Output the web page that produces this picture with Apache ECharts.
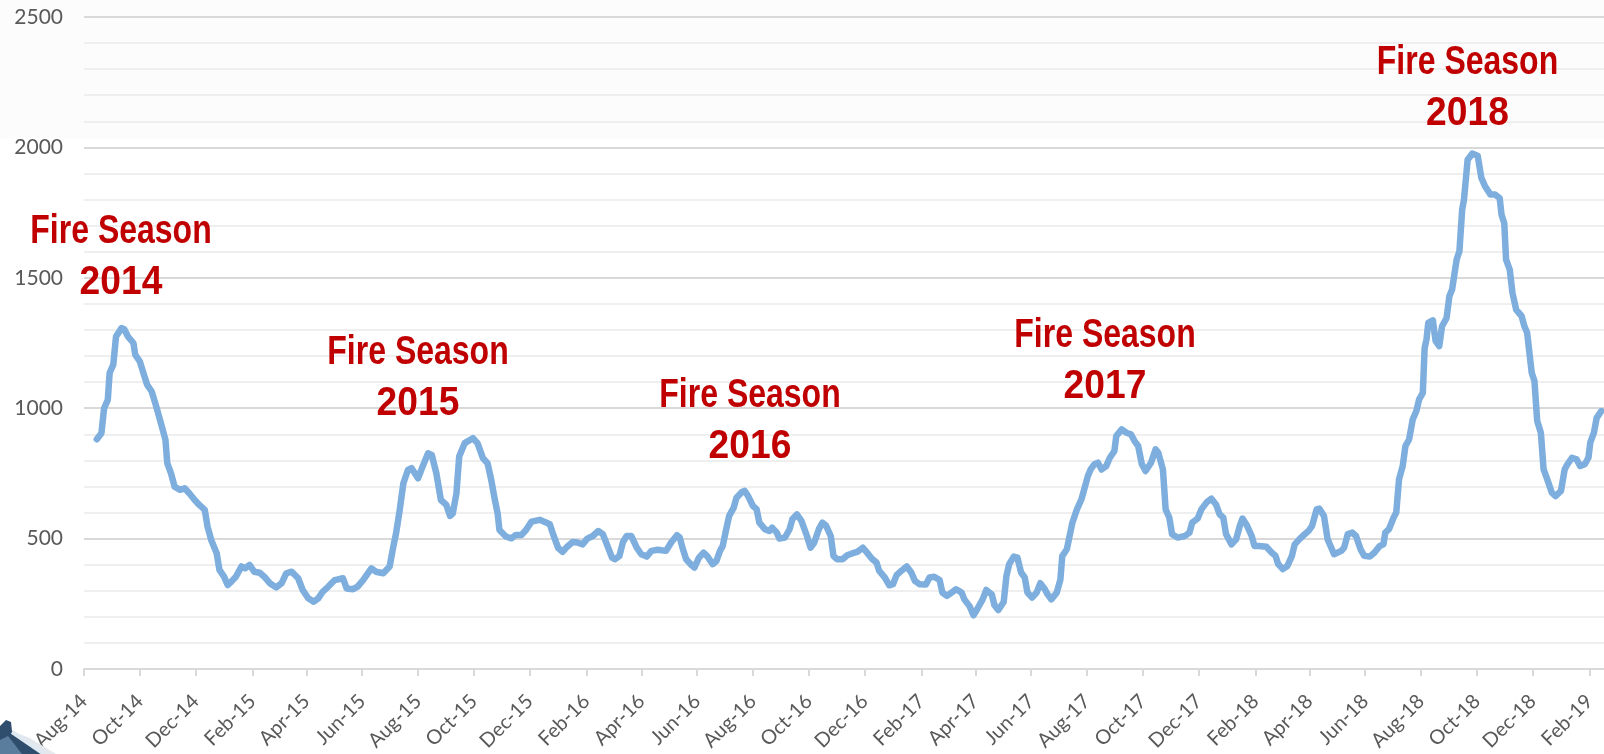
<!DOCTYPE html>
<html>
<head>
<meta charset="utf-8">
<script src="https://cdn.jsdelivr.net/npm/echarts@6/dist/echarts.min.js"></script>
<style>
  html, body { margin: 0; padding: 0; background: #ffffff; }
  #chart { width: 1604px; height: 754px; }
</style>
</head>
<body>
<div id="chart"></div>
<script>
// Observations: [days since 1 Aug 2014, count]
const START_UTC = Date.UTC(2014, 7, 1);
const DAY_MS = 86400000;

const obs2014 = [
  [14, 881], [19, 904], [22, 1000], [26, 1032], [28, 1135], [32, 1167], [35, 1275], [41, 1307],
  [44, 1303], [48, 1275], [54, 1250], [56, 1205], [61, 1179], [65, 1134], [69, 1090], [74, 1064],
  [79, 1006], [85, 930], [89, 879], [91, 789], [95, 751], [99, 699], [105, 687], [110, 693],
  [115, 674], [121, 648], [126, 629], [132, 610], [135, 546], [139, 495], [145, 444], [148, 380]
];
const obs2015 = [
  [153, 354], [157, 322], [161, 335], [166, 354], [172, 393], [176, 386], [181, 399], [186, 373],
  [192, 369], [197, 354], [203, 329], [210, 313], [216, 329], [221, 367], [227, 373], [234, 348],
  [239, 303], [245, 271], [251, 258], [256, 271], [261, 297], [267, 316], [274, 341], [283, 348],
  [287, 309], [294, 306], [299, 316], [305, 341], [314, 386], [319, 373], [327, 367], [334, 393],
  [338, 469], [341, 520], [345, 610], [349, 712], [354, 763], [358, 770], [365, 731], [370, 776],
  [376, 827], [380, 821], [385, 751], [390, 648], [396, 629], [400, 587], [403, 597], [407, 674],
  [410, 815], [416, 866], [425, 885], [430, 866], [436, 808], [441, 789], [445, 725], [449, 648],
  [452, 597], [454, 533], [461, 508], [467, 501], [472, 514], [478, 514], [483, 533], [489, 565],
  [498, 572], [503, 565], [509, 555], [512, 523]
];
const obs2016 = [
  [518, 465], [523, 449], [528, 469], [534, 487], [539, 485], [545, 478], [550, 500], [556, 510],
  [562, 529], [567, 517], [572, 472], [577, 427], [580, 421], [585, 433], [589, 487], [593, 510],
  [598, 510], [604, 465], [609, 440], [615, 431], [620, 453], [627, 457], [636, 453], [642, 487],
  [648, 513], [651, 504], [654, 465], [658, 421], [664, 398], [667, 389], [672, 427], [677, 446],
  [681, 433], [687, 402], [691, 414], [695, 453], [698, 472], [701, 523], [705, 587], [710, 619],
  [713, 657], [719, 679], [722, 683], [726, 661], [731, 625], [735, 613], [738, 561], [744, 536],
  [749, 529], [752, 542], [757, 523], [760, 500], [766, 504], [771, 536], [774, 574], [779, 593],
  [784, 568], [790, 510], [794, 465], [798, 485], [803, 536], [807, 561], [811, 549], [816, 510],
  [819, 433], [823, 421], [829, 421], [834, 436], [840, 444], [845, 449], [851, 465], [855, 449],
  [861, 423], [866, 408], [869, 376], [875, 351], [880, 321]
];
const obs2017 = [
  [884, 325], [888, 360], [893, 376], [899, 393], [904, 370], [908, 338], [913, 325], [920, 324],
  [924, 351], [929, 354], [935, 341], [938, 293], [943, 280], [948, 293], [953, 306], [959, 293],
  [962, 267], [968, 239], [972, 206], [976, 229], [982, 267], [986, 303], [992, 286], [995, 244],
  [999, 226], [1005, 257], [1008, 357], [1011, 402], [1016, 431], [1020, 427], [1024, 370], [1028, 351],
  [1031, 293], [1036, 274], [1041, 293], [1045, 329], [1050, 306], [1053, 286], [1057, 267], [1063, 293],
  [1067, 344], [1069, 433], [1074, 459], [1080, 560], [1085, 612], [1090, 651], [1093, 689], [1097, 740],
  [1100, 765], [1104, 785], [1108, 791], [1112, 765], [1117, 778], [1121, 810], [1126, 836], [1128, 893],
  [1134, 919], [1139, 906], [1144, 900], [1148, 874], [1152, 855], [1156, 785], [1160, 759], [1166, 791],
  [1171, 842], [1174, 829], [1179, 765], [1182, 612], [1186, 580], [1189, 517], [1195, 504], [1203, 510],
  [1208, 523], [1211, 561], [1217, 577], [1221, 612], [1227, 640], [1232, 653], [1237, 631], [1241, 593],
  [1245, 580], [1248, 517]
];
const obs2018 = [
  [1254, 478], [1259, 497], [1263, 549], [1266, 577], [1271, 549], [1276, 510], [1279, 472], [1284, 472],
  [1292, 469], [1298, 446], [1302, 434], [1305, 402], [1310, 383], [1315, 395], [1320, 434], [1323, 478],
  [1328, 497], [1334, 517], [1338, 529], [1342, 549], [1347, 612], [1350, 615], [1355, 587], [1359, 497],
  [1363, 465], [1366, 440], [1374, 453], [1377, 465], [1381, 517], [1386, 523], [1390, 510], [1395, 459],
  [1399, 434], [1405, 431], [1410, 446], [1416, 472], [1420, 478], [1422, 523], [1426, 536], [1431, 580],
  [1434, 600], [1437, 727], [1441, 778], [1444, 855], [1448, 880], [1452, 957], [1456, 989], [1459, 1034],
  [1463, 1059], [1465, 1231], [1467, 1263], [1469, 1327], [1474, 1337], [1477, 1257], [1481, 1238], [1484, 1314],
  [1489, 1346], [1492, 1429], [1495, 1455], [1500, 1570], [1503, 1602], [1506, 1761], [1508, 1800], [1512, 1953],
  [1517, 1976], [1523, 1968], [1527, 1883], [1531, 1851], [1537, 1819], [1542, 1819], [1547, 1806], [1549, 1742],
  [1552, 1710], [1554, 1570], [1558, 1531], [1561, 1442], [1565, 1378], [1571, 1353], [1574, 1314], [1577, 1289],
  [1582, 1136], [1585, 1104], [1588, 951], [1592, 906], [1595, 765], [1599, 727], [1604, 676], [1608, 663]
];
const obs2019 = [
  [1614, 683], [1618, 765], [1621, 785], [1626, 810], [1631, 804], [1635, 778], [1640, 785], [1644, 810],
  [1646, 868], [1650, 906], [1653, 963], [1658, 989]
];

const tickLabels = [
  'Aug-14', 'Oct-14', 'Dec-14', 'Feb-15', 'Apr-15', 'Jun-15', 'Aug-15', 'Oct-15', 'Dec-15',
  'Feb-16', 'Apr-16', 'Jun-16', 'Aug-16', 'Oct-16', 'Dec-16', 'Feb-17', 'Apr-17', 'Jun-17',
  'Aug-17', 'Oct-17', 'Dec-17', 'Feb-18', 'Apr-18', 'Jun-18', 'Aug-18', 'Oct-18', 'Dec-18', 'Feb-19'
];
const seasonYears = ['2014', '2015', '2016', '2017', '2018'];
const yTicks = { min: 0, max: 2500, step: 500, minorSplit: 5 };
const axisEndDay = 1661;

// ---- derived structures ----
const MONTHS = ['Jan','Feb','Mar','Apr','May','Jun','Jul','Aug','Sep','Oct','Nov','Dec'];
const tickValues = tickLabels.map(function (s) {
  const parts = s.split('-');
  return Date.UTC(2000 + Number(parts[1]), MONTHS.indexOf(parts[0]), 1);
});
const labelByTime = {};
tickValues.forEach(function (t, i) { labelByTime[t] = tickLabels[i]; });

const seriesData = [].concat(obs2014, obs2015, obs2016, obs2017, obs2018, obs2019)
  .map(function (p) { return [START_UTC + p[0] * DAY_MS, p[1]]; });

// Annotation placement (centre x, first-line baseline) in pixels
const seasonPlacement = [
  [121, 244], [418, 365.5], [750, 408], [1105, 348], [1467.5, 75]
];
const ANNOT_LINE_H = 51;
const ANNOT_FONT = 'bold 40px "Liberation Sans", Arial, sans-serif';
function annotLine(text, cx, baseline, sx) {
  return {
    type: 'text',
    x: cx,
    y: baseline - ANNOT_LINE_H / 2 - 12.4,
    scaleX: sx,
    z: 100,
    silent: true,
    style: {
      text: text,
      fill: '#C00000',
      font: ANNOT_FONT,
      align: 'center',
      verticalAlign: 'top',
      lineHeight: ANNOT_LINE_H
    }
  };
}
const annotations = [];
seasonYears.forEach(function (yr, i) {
  const p = seasonPlacement[i];
  annotations.push(annotLine('Fire Season', p[0], p[1], 0.8));
  annotations.push(annotLine(yr, p[0], p[1] + ANNOT_LINE_H, 0.93));
});

const chart = echarts.init(document.getElementById('chart'), null, { renderer: 'canvas' });

chart.setOption({
  animation: false,
  backgroundColor: '#ffffff',
  grid: {
    left: 84, right: 0, top: 17, bottom: 85,
    containLabel: false,
    outerBoundsMode: 'none'
  },
  xAxis: {
    // linear axis over UTC timestamps, ticked at the start of every second month
    type: 'value',
    min: START_UTC,
    max: START_UTC + axisEndDay * DAY_MS,
    axisLine: { show: true, onZero: false, lineStyle: { color: '#d9d9d9', width: 2 } },
    axisTick: {
      show: true,
      customValues: tickValues,
      length: 7,
      lineStyle: { color: '#d9d9d9', width: 2 }
    },
    axisLabel: {
      customValues: tickValues,
      formatter: function (v) { return labelByTime[v] || ''; },
      rotate: 45,
      margin: 29,
      fontSize: 20,
      fontFamily: 'Lato, "Open Sans", sans-serif',
      color: '#595959',
      hideOverlap: false
    },
    splitLine: { show: false }
  },
  yAxis: {
    type: 'value',
    min: yTicks.min,
    max: yTicks.max,
    interval: yTicks.step,
    axisLine: { show: false },
    axisTick: { show: false },
    axisLabel: {
      margin: 21,
      fontSize: 21,
      fontFamily: 'Lato, "Open Sans", sans-serif',
      color: '#595959',
      formatter: function (v) { return String(v); }
    },
    splitLine: { show: true, lineStyle: { color: '#d9d9d9', width: 2 } },
    minorTick: { show: false, splitNumber: yTicks.minorSplit },
    minorSplitLine: { show: true, lineStyle: { color: '#efefef', width: 2 } }
  },
  series: [{
    name: 'Count',
    type: 'line',
    data: seriesData,
    showSymbol: false,
    symbol: 'none',
    smooth: false,
    z: 5,
    lineStyle: { color: '#7DAEDD', width: 6.5, cap: 'round', join: 'round' }
  }],
  graphic: [
    // faint band along the top of the frame
    { type: 'rect', z: -10, silent: true, shape: { x: 0, y: 0, width: 1604, height: 138 },
      style: { fill: '#fcfcfc' } },
    // corner photo fragment
    { type: 'polygon', z: 49, silent: true,
      shape: { points: [[14, 732], [30, 738], [56, 754], [44, 754]] },
      style: { fill: '#e4e8ec' } },
    { type: 'polygon', z: 50, silent: true,
      shape: { points: [[0, 726], [6, 720], [11, 722], [12, 731], [44, 754], [0, 754]] },
      style: { fill: '#2f4d6d' } },
    { type: 'polygon', z: 51, silent: true,
      shape: { points: [[0, 740], [8, 736], [22, 754], [0, 754]] },
      style: { fill: '#5a7d9e' } },
    { type: 'line', z: 52, silent: true,
      shape: { x1: 12, y1: 732, x2: 44, y2: 754 },
      style: { stroke: '#dfe9f2', lineWidth: 4 } }
  ].concat(annotations)
});
</script>
</body>
</html>
